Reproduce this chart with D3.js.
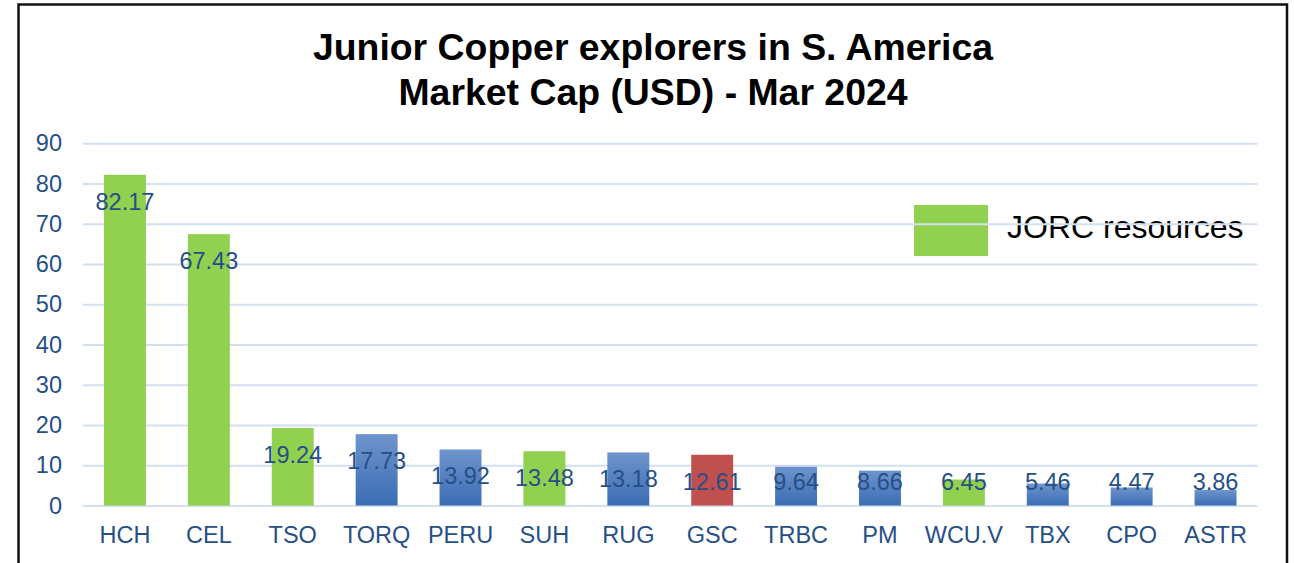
<!DOCTYPE html>
<html>
<head>
<meta charset="utf-8">
<script src="https://cdn.jsdelivr.net/npm/d3@7"></script>
<style>
  body { margin: 0; background: #fff; }
  svg { display: block; font-family: "Liberation Sans", Arial, sans-serif; }
</style>
</head>
<body>
<svg id="chart" width="1294" height="563"></svg>
<script>
// DATA
const tickers = ["HCH", "CEL", "TSO", "TORQ", "PERU", "SUH", "RUG", "GSC", "TRBC", "PM", "WCU.V", "TBX", "CPO", "ASTR"]
const marketCaps = [82.17, 67.43, 19.24, 17.73, 13.92, 13.48, 13.18, 12.61, 9.64, 8.66, 6.45, 5.46, 4.47, 3.86]
// jorc = has JORC resources, gsc = highlighted, other = plain
const groups = ["jorc", "jorc", "jorc", "other", "other", "jorc", "other", "gsc", "other", "other", "jorc", "other", "other", "other"]
const yTicks = [0, 10, 20, 30, 40, 50, 60, 70, 80, 90]
const titleLines = ["Junior Copper explorers in S. America", "Market Cap (USD) - Mar 2024"]
const legendLabel = "JORC resources"

const textBlue = '#264f86'
const fontSize = 23.5

let svg = d3.select('#chart')

// GRADIENT FOR BLUE BARS
let defs = svg.append('defs')
let grad = defs.append('linearGradient')
    .attr('id', 'blueGrad')
    .attr('x1', 0).attr('y1', 0).attr('x2', 0).attr('y2', 1)
grad.append('stop').attr('offset', '0%').attr('stop-color', '#6e94cc')
grad.append('stop').attr('offset', '100%').attr('stop-color', '#3b6db4')

let colour = d3.scaleOrdinal()
    .domain(["jorc", "other", "gsc"])
    .range(['#92d050', 'url(#blueGrad)', '#c0504d'])

// OUTER FRAME (bottom edge runs off the picture)
svg.append('path')
    .attr('d', 'M18.5,600 V4.5 H1287 V600')
    .attr('fill', 'none')
    .attr('stroke', '#111')
    .attr('stroke-width', 2.5)

// TITLE
svg.append('text')
    .attr('x', 653)
    .attr('y', 47)
    .attr('text-anchor', 'middle')
    .attr('font-size', 37.4)
    .attr('font-weight', 'bold')
    .attr('fill', '#000')
    .selectAll('tspan')
    .data(titleLines)
    .join('tspan')
        .attr('x', 653)
        .attr('dy', (d, i) => i === 0 ? '0.36em' : 45)
        .text(d => d)

let margins = {top: 143.3, left: 83, right: 1257.5, bottom: 505.5}

let x = d3.scaleBand()
    .domain(tickers)
    .range([margins.left, margins.right])
    .paddingInner(0.5)
    .paddingOuter(0.25)

let y = d3.scaleLinear()
    .domain([0, 90])
    .range([margins.bottom, margins.top])

// LEGEND (gridlines pass over it in the original)
let legend = svg.append('g')
legend.append('rect')
    .attr('x', 914)
    .attr('y', 205)
    .attr('width', 74)
    .attr('height', 51)
    .attr('fill', colour("jorc"))
legend.append('text')
    .attr('x', 1007)
    .attr('y', 226)
    .attr('dy', '0.36em')
    .attr('font-size', 32)
    .attr('fill', '#000')
    .text(legendLabel)

// Y AXIS GRIDLINES + LABELS
let yAxis = svg.append('g')
    .call(d3.axisLeft(y).tickValues(yTicks).tickSize(-(margins.right - margins.left)).tickPadding(21))
    .attr('transform', `translate(${margins.left},0)`)
yAxis.select('.domain').remove()
yAxis.selectAll('line')
    .attr('stroke', '#d3e0f2')
    .attr('stroke-width', 2)
yAxis.selectAll('text')
    .attr('fill', textBlue)
    .attr('font-size', fontSize)
    .attr('font-family', '"Liberation Sans", Arial, sans-serif')

// BARS
svg.append('g')
    .selectAll('rect')
    .data(tickers)
    .join('rect')
        .attr('x', d => x(d))
        .attr('y', (d, i) => y(marketCaps[i]))
        .attr('width', x.bandwidth())
        .attr('height', (d, i) => y(0) - y(marketCaps[i]))
        .attr('fill', (d, i) => colour(groups[i]))

// VALUE LABELS (inside end, kept above the axis for short bars)
svg.append('g')
    .selectAll('text')
    .data(tickers)
    .join('text')
        .attr('x', d => x(d) + x.bandwidth() / 2)
        .attr('y', (d, i) => Math.min(y(marketCaps[i]) + 26.5, y(0) - 24))
        .attr('dy', '0.36em')
        .attr('text-anchor', 'middle')
        .attr('font-size', fontSize)
        .attr('fill', textBlue)
        .text((d, i) => marketCaps[i].toFixed(2))

// X AXIS LABELS
let xAxis = svg.append('g')
    .call(d3.axisBottom(x).tickSize(0).tickPadding(0))
    .attr('transform', `translate(0,${margins.bottom})`)
xAxis.select('.domain').remove()
xAxis.selectAll('text')
    .attr('dy', null)
    .attr('y', 29)
    .attr('dominant-baseline', 'central')
    .attr('fill', textBlue)
    .attr('font-size', fontSize)
    .attr('font-family', '"Liberation Sans", Arial, sans-serif')
</script>
</body>
</html>
